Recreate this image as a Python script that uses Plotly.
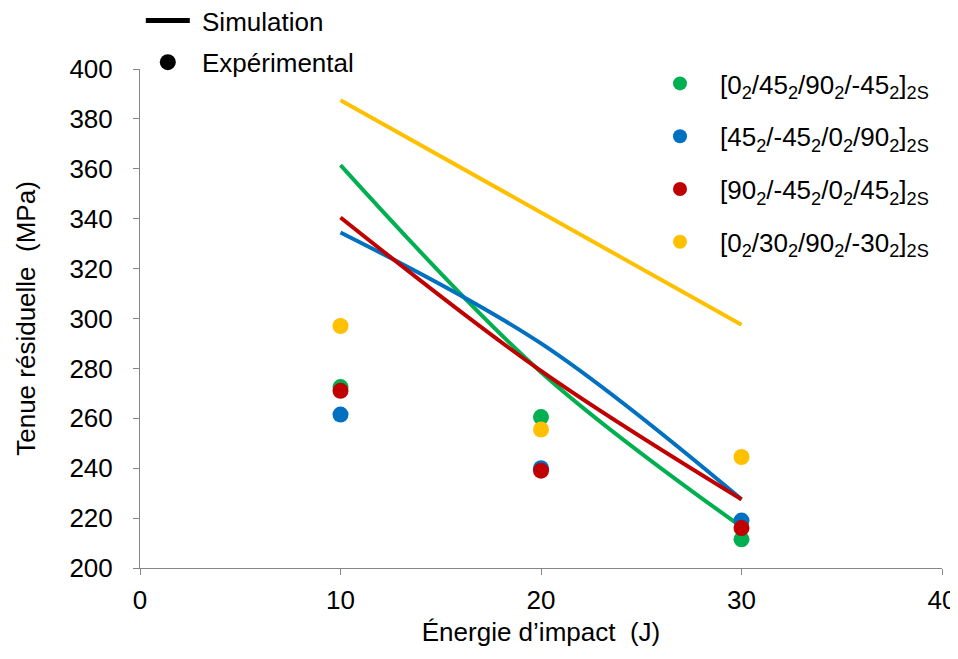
import plotly.graph_objects as go

energy = [10, 20, 30]

series_names = [
    "[0<sub>2</sub>/45<sub>2</sub>/90<sub>2</sub>/-45<sub>2</sub>]<sub>2S</sub>",
    "[45<sub>2</sub>/-45<sub>2</sub>/0<sub>2</sub>/90<sub>2</sub>]<sub>2S</sub>",
    "[90<sub>2</sub>/-45<sub>2</sub>/0<sub>2</sub>/45<sub>2</sub>]<sub>2S</sub>",
    "[0<sub>2</sub>/30<sub>2</sub>/90<sub>2</sub>/-30<sub>2</sub>]<sub>2S</sub>",
]
colors = ["#00B050", "#0070C0", "#C00000", "#FFC000"]

sim_green = [361.5, 278.5, 216.5]
sim_blue = [334.5, 290.0, 227.5]
sim_red = [340.5, 279.0, 227.5]
sim_yellow = [387.5, 342.5, 297.5]

exp_green = [272.5, 260.5, 211.5]
exp_blue = [261.5, 240.0, 219.0]
exp_red = [271.0, 239.0, 216.0]
exp_yellow = [297.0, 255.5, 244.5]

sims = [sim_green, sim_blue, sim_red, sim_yellow]
exps = [exp_green, exp_blue, exp_red, exp_yellow]

x_ticks = [0, 10, 20, 30, 40]
y_ticks = [200, 220, 240, 260, 280, 300, 320, 340, 360, 380, 400]

FONT = "Liberation Sans, Arial, sans-serif"
NB = "\u00a0"

fig = go.Figure()

# simulation lines (drawn first, below the points)
for vals, col in zip(sims, colors):
    fig.add_trace(go.Scatter(
        x=energy, y=vals, mode="lines",
        line=dict(color=col, width=4, shape="spline", smoothing=1.0),
        showlegend=False, hoverinfo="skip"))

# experimental points
for name, vals, col in zip(series_names, exps, colors):
    fig.add_trace(go.Scatter(
        x=energy, y=vals, mode="markers", name=name,
        marker=dict(color=col, size=16), showlegend=False))

# legend keys for the series (right legend)
for i, (name, col) in enumerate(zip(series_names, colors)):
    fig.add_trace(go.Scatter(
        x=[None], y=[None], mode="markers", name=name,
        marker=dict(color=col, size=14),
        legend="legend2", legendgroup=f"g{i}"))

# black legend keys (top-left legend)
fig.add_trace(go.Scatter(
    x=[None], y=[None], mode="lines", name=NB + "Simulation",
    line=dict(color="black", width=5), legend="legend", legendgroup="s"))
fig.add_trace(go.Scatter(
    x=[None], y=[None], mode="markers", name=NB + "Expérimental",
    marker=dict(color="black", size=17), legend="legend", legendgroup="e"))

axis_common = dict(
    showgrid=False, zeroline=False, showline=True, automargin=False,
    linecolor="#868686", linewidth=1,
    ticks="outside", ticklen=6, tickcolor="#868686", tickwidth=1,
    tickfont=dict(family=FONT, size=26, color="#000000"),
)

# the page body adds an 8 px offset; figure is sized so the page fits the window
W, H = 950, 651
L, R, B = 132, 16, 91
H_PAPER = H - B        # paper height in px (t=0)
W_PAPER = W - L - R
TOP = 61               # px of y=400

fig.update_layout(
    width=W, height=H,
    margin=dict(l=L, r=R, t=0, b=B, autoexpand=False),
    paper_bgcolor="white", plot_bgcolor="white",
    font=dict(family=FONT, size=25, color="#000000"),
    xaxis=dict(range=[0, 40], tickvals=x_ticks, ticklabelstandoff=3,
               title=dict(text="Énergie d’impact" + NB + " (J)",
                          font=dict(family=FONT, size=26), standoff=8),
               **axis_common),
    yaxis=dict(range=[200, 400], tickvals=y_ticks, ticklabelstandoff=15,
               domain=[0, (H_PAPER - TOP) / H_PAPER],
               title=dict(text="Tenue résiduelle" + NB + " (MPa)",
                          font=dict(family=FONT, size=26), standoff=26),
               **axis_common),
    legend=dict(x=0.001, y=1.0 + 11 / H_PAPER, xanchor="left", yanchor="top",
                font=dict(family=FONT, size=26), bgcolor="rgba(0,0,0,0)",
                tracegroupgap=5, itemwidth=44, itemsizing="trace"),
    legend2=dict(x=(632 - L) / W_PAPER, y=(H_PAPER - 52) / H_PAPER,
                 xanchor="left", yanchor="top",
                 font=dict(family=FONT, size=26), bgcolor="rgba(0,0,0,0)",
                 tracegroupgap=16, itemwidth=70, itemsizing="trace"),
)

fig.write_html("out.html")
